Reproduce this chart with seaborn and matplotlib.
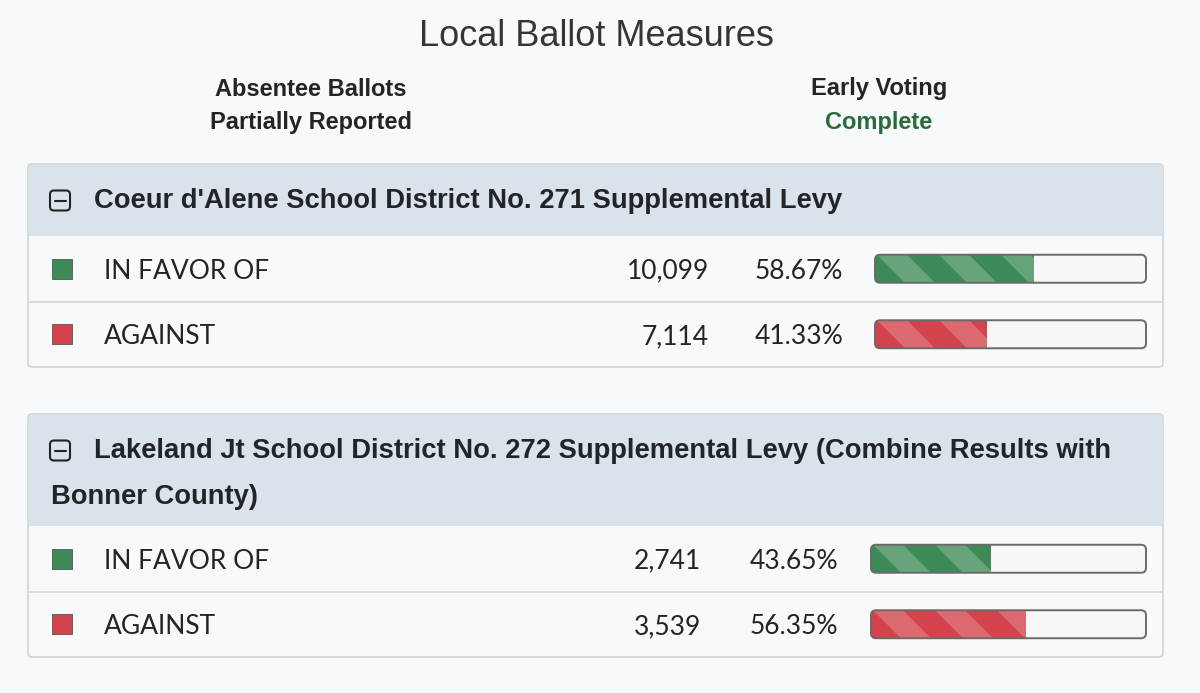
import matplotlib
matplotlib.use("Agg")
import matplotlib.pyplot as plt
from matplotlib.patches import FancyBboxPatch, Rectangle, Polygon
from matplotlib.transforms import Bbox, TransformedBbox
import seaborn as sns

# values
title = "Local Ballot Measures"
status_left = ["Absentee Ballots", "Partially Reported"]
status_right = ["Early Voting", "Complete"]
measure_titles = [
    ["Coeur d'Alene School District No. 271 Supplemental Levy"],
    ["Lakeland Jt School District No. 272 Supplemental Levy (Combine Results with",
     "Bonner County)"],
]
choices = ["IN FAVOR OF", "AGAINST"]
votes = [[10099, 7114], [2741, 3539]]
percents = [[58.67, 41.33], [43.65, 56.35]]

PAGE = "#f8f9fb"
HEADER_BG = "#dae2ea"
BORDER = "#cfd4da"
TEXT = "#222427"
GREEN_TEXT = "#2a6b3a"
choice_colors = {"IN FAVOR OF": ("#3c8a55", "#68a47b"),
                 "AGAINST": ("#d2434b", "#de6a71")}

sns.set_theme(style="white")
plt.rcParams["font.family"] = ["Liberation Sans", "DejaVu Sans"]
LATO = ["Lato", "DejaVu Sans"]

fig = plt.figure(figsize=(12, 6.93), dpi=100)
fig.patch.set_facecolor(PAGE)
ax = fig.add_axes([0, 0, 1, 1])
ax.set_xlim(0, 1200)
ax.set_ylim(693, 0)
ax.axis("off")

# page heading
ax.text(596, 37, title, ha="center", va="center", fontsize=26, color="#333538")
ax.text(311, 89, status_left[0], ha="center", va="center", fontsize=17,
        fontweight="bold", color=TEXT)
ax.text(311, 123, status_left[1], ha="center", va="center", fontsize=17,
        fontweight="bold", color=TEXT)
ax.text(879, 89, status_right[0], ha="center", va="center", fontsize=17,
        fontweight="bold", color=TEXT)
ax.text(879, 123, status_right[1], ha="center", va="center", fontsize=17,
        fontweight="bold", color=GREEN_TEXT)


def draw_bar(cy, x0, x1, pct, dark, light):
    h = 28
    w = x1 - x0
    frame = FancyBboxPatch((x0, cy - h / 2), w, h,
                           boxstyle="round,pad=0,rounding_size=5",
                           fc="#f7f7f7", ec="none", zorder=3)
    ax.add_patch(frame)

    bax = fig.add_axes([x0 / 1200, 1 - (cy + h / 2) / 693, w / 1200, h / 693])
    bax.set_facecolor("none")
    sns.barplot(x=[pct], y=[0], orient="h", ax=bax, color=dark,
                saturation=1, width=1, linewidth=0, errorbar=None)
    for p in bax.patches:
        p.set_clip_path(frame)

    # diagonal stripes, limited to the filled part of the bar
    fill_box = TransformedBbox(Bbox.from_extents(0, -0.5, pct, 0.5), bax.transData)
    period, band = 62, 30
    for k in range(-1, int(w / period) + 2):
        xs = x0 + 2 + k * period
        stripe = Polygon([(xs, cy - h / 2), (xs + band, cy - h / 2),
                          (xs + band + h, cy + h / 2), (xs + h, cy + h / 2)],
                         closed=True, fc=light, ec="none",
                         transform=ax.transData)
        bax.add_patch(stripe)
        stripe.set_clip_path(frame)
        stripe.set_clip_box(fill_box)

    outline = FancyBboxPatch((x0, cy - h / 2), w, h,
                             boxstyle="round,pad=0,rounding_size=5",
                             fc="none", ec="#6a6a6a", lw=1.4,
                             transform=ax.transData, clip_on=False, zorder=5)
    bax.add_patch(outline)
    bax.set_xlim(0, 100)
    bax.set_ylim(0.5, -0.5)
    bax.axis("off")


def draw_panel(top, header_h, row_h, lines, vals, pcts, num_x, pct_x, bar_x0):
    left, right = 28, 1163
    bottom = top + header_h + 2 * row_h
    ax.add_patch(FancyBboxPatch((left, top), right - left, bottom - top,
                                boxstyle="round,pad=0,rounding_size=4",
                                fc=PAGE, ec=BORDER, lw=1.2, zorder=1))
    ax.add_patch(FancyBboxPatch((left + 0.6, top + 0.6), right - left - 1.2,
                                header_h - 0.6,
                                boxstyle="round,pad=0,rounding_size=4",
                                fc=HEADER_BG, ec="none", zorder=1.5))
    ax.add_patch(Rectangle((left + 0.6, top + 10), right - left - 1.2,
                           header_h - 10, fc=HEADER_BG, ec="none", zorder=1.5))

    # collapse icon
    icy = top + 36.5
    ax.add_patch(FancyBboxPatch((50, icy - 10), 20, 20,
                                boxstyle="round,pad=0,rounding_size=4",
                                fc="none", ec="#222222", lw=1.5, zorder=2))
    ax.plot([54.5, 65.5], [icy, icy], color="#222222", lw=1.5, zorder=2)

    ax.text(94, icy, lines[0], ha="left", va="center", fontsize=19.7,
            fontweight="bold", color=TEXT, zorder=2)
    for i, line in enumerate(lines[1:], start=1):
        ax.text(51, icy + 47 * i, line, ha="left", va="center", fontsize=19.7,
                fontweight="bold", color=TEXT, zorder=2)

    ax.plot([left + 0.6, right - 0.6], [top + header_h + row_h] * 2,
            color="#d3d6da", lw=1.2, zorder=2)

    for i, choice in enumerate(choices):
        cy = top + header_h + row_h * (i + 0.5)
        ty = cy + 2.5
        dark, light = choice_colors[choice]
        ax.add_patch(Rectangle((52, cy - 10), 20, 20, fc=dark, ec="#555555",
                               lw=0.6, zorder=2))
        ax.text(104, ty, choice, ha="left", va="center", fontsize=19,
                family=LATO, color=TEXT, zorder=2)
        ax.text(num_x, ty, f"{vals[i]:,}", ha="right", va="center",
                fontsize=19, family=LATO, color=TEXT, zorder=2)
        ax.text(pct_x, ty, f"{pcts[i]:.2f}%", ha="right", va="center",
                fontsize=19, family=LATO, color=TEXT, zorder=2)
        draw_bar(cy, bar_x0, 1146, pcts[i], dark, light)


draw_panel(164, 72, 65.5, measure_titles[0], votes[0], percents[0], 709, 843, 875)
draw_panel(414, 112, 65.5, measure_titles[1], votes[1], percents[1], 701, 838, 871)

fig.savefig("out.png", dpi=100, facecolor=PAGE)
